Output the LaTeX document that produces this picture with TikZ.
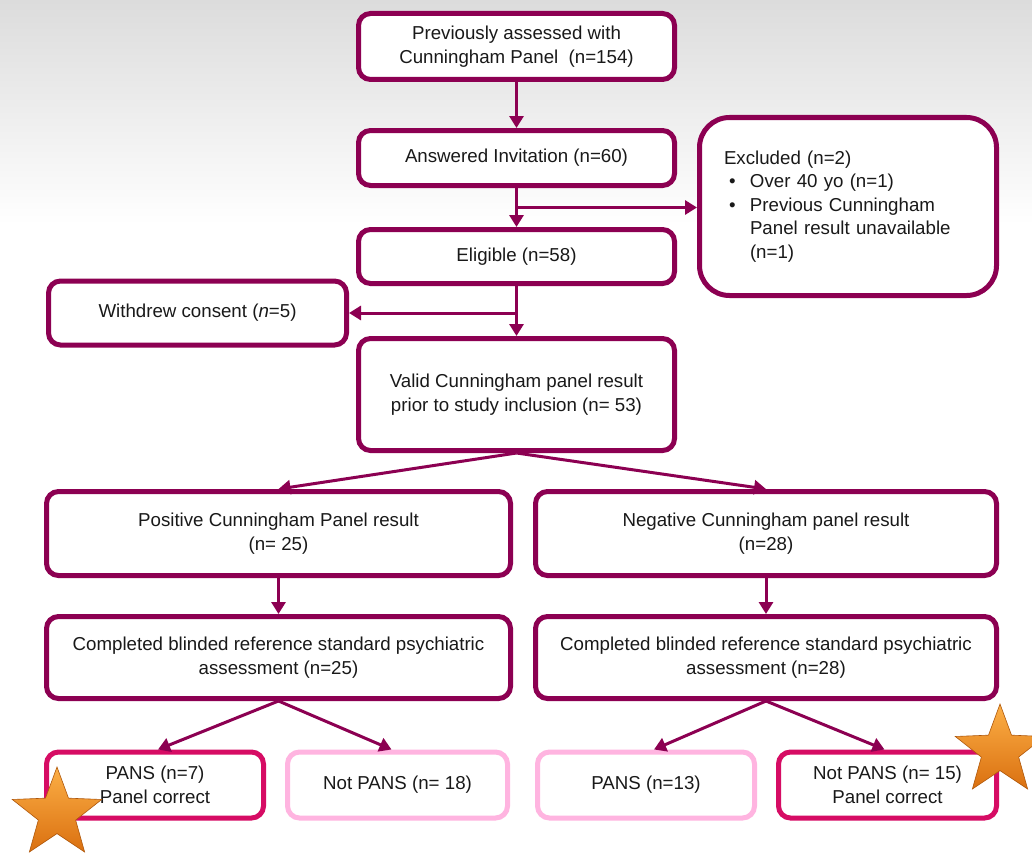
\documentclass[tikz,border=0pt]{standalone}
\usepackage{fontspec}
\setmainfont{Liberation Sans}
\usetikzlibrary{arrows.meta,shapes.geometric,calc}
\definecolor{plum}{RGB}{140,0,82}
\definecolor{hotpk}{RGB}{214,12,100}
\definecolor{lightpk}{RGB}{255,180,224}
\definecolor{txt}{RGB}{25,25,25}
\definecolor{bgtop}{RGB}{220,220,220}
\definecolor{starhi}{RGB}{252,175,70}
\definecolor{starlo}{RGB}{218,112,16}
\definecolor{starline}{RGB}{175,88,12}
\tikzset{
  box/.style={draw=plum, line width=5pt, rounded corners=12pt, fill=white,
    align=center, text=txt, inner sep=0pt,
    font=\fontsize{18.7pt}{23.5pt}\selectfont},
  goodbox/.style={box, draw=hotpk},
  otherbox/.style={box, draw=lightpk},
  arr/.style={draw=plum, line width=3pt, -{Triangle[length=12pt,width=14pt]}},
  starshape/.style={star, star points=5, star point ratio=2.4, shape border rotate=0,
    inner sep=0pt, top color=starhi, bottom color=starlo, draw=starline, line width=0.6pt}
}
\begin{document}
\begin{tikzpicture}[x=1pt,y=-1pt]
\useasboundingbox (0,0) rectangle (1032,856);
\fill[white] (0,0) rectangle (1032,856);
\shade[top color=bgtop, bottom color=white] (0,0) rectangle (1032,225);

\node[box, minimum width=316pt, minimum height=66pt] (top) at (516.5,46.5)
  {Previously assessed with\\Cunningham Panel\ \ (n=154)};
\node[box, minimum width=316pt, minimum height=55pt] (ans) at (516.5,158)
  {Answered Invitation (n=60)};
\node[box, minimum width=316pt, minimum height=54pt] (elig) at (516.5,256.5)
  {Eligible (n=58)};
\node[box, rounded corners=30pt, minimum width=297pt, minimum height=178pt,
  text width=248pt, align=left] (excl) at (848,206.5)
  {Excluded (n=2)\\
   \hspace*{5pt}\makebox[21pt][l]{\textbullet}Over 40 yo (n=1)\\
   \hspace*{5pt}\makebox[21pt][l]{\textbullet}Previous Cunningham\\
   \hspace*{26pt}Panel result unavailable\\
   \hspace*{26pt}(n=1)};
\node[box, minimum width=298pt, minimum height=64pt] (wd) at (197.5,313)
  {Withdrew consent (\textit{n}=5)};
\node[box, minimum width=316pt, minimum height=112pt] (valid) at (516.5,394.5)
  {Valid Cunningham panel result\\prior to study inclusion (n= 53)};
\node[box, minimum width=464pt, minimum height=84pt] (pos) at (278.5,533.5)
  {Positive Cunningham Panel result\\(n= 25)};
\node[box, minimum width=461pt, minimum height=84pt] (neg) at (766,533.5)
  {Negative Cunningham panel result\\(n=28)};
\node[box, minimum width=464pt, minimum height=82pt] (compL) at (278.5,657.5)
  {Completed blinded reference standard psychiatric\\assessment (n=25)};
\node[box, minimum width=461pt, minimum height=82pt] (compR) at (766,657.5)
  {Completed blinded reference standard psychiatric\\assessment (n=28)};
\node[goodbox, minimum width=217pt, minimum height=66pt] (p7) at (155,785)
  {PANS (n=7)\\Panel correct};
\node[otherbox, minimum width=220pt, minimum height=66pt] (n18) at (397.5,785)
  {Not PANS (n= 18)};
\node[otherbox, minimum width=217pt, minimum height=66pt] (p13) at (646,785)
  {PANS (n=13)};
\node[goodbox, minimum width=218pt, minimum height=66pt] (n15) at (887.5,785)
  {Not PANS (n= 15)\\Panel correct};

\coordinate (exclBranch) at ($(ans.south)!0.5!(elig.north)$);
\draw[arr] (top) -- (ans);
\draw[arr] (ans) -- (elig);
\draw[arr] (exclBranch) -- (exclBranch -| excl.west);
\draw[arr] (elig) -- (valid);
\draw[arr] (elig.south |- wd.east) -- (wd.east);
\draw[arr] (valid.south) -- (pos.north);
\draw[arr] (valid.south) -- (neg.north);
\draw[arr] (pos) -- (compL);
\draw[arr] (neg) -- (compR);
\draw[arr] (compL.south) -- ([xshift=3pt]p7.north);
\draw[arr] (compL.south) -- ([xshift=-6pt]n18.north);
\draw[arr] (compR.south) -- ([xshift=8pt]p13.north);
\draw[arr] (compR.south) -- ([xshift=-3pt]n15.north);

\node[starshape, minimum size=94pt] (starL) at (57,814) {};
\node[starshape, minimum size=94pt] (starR) at (1000,751) {};
\end{tikzpicture}
\end{document}
